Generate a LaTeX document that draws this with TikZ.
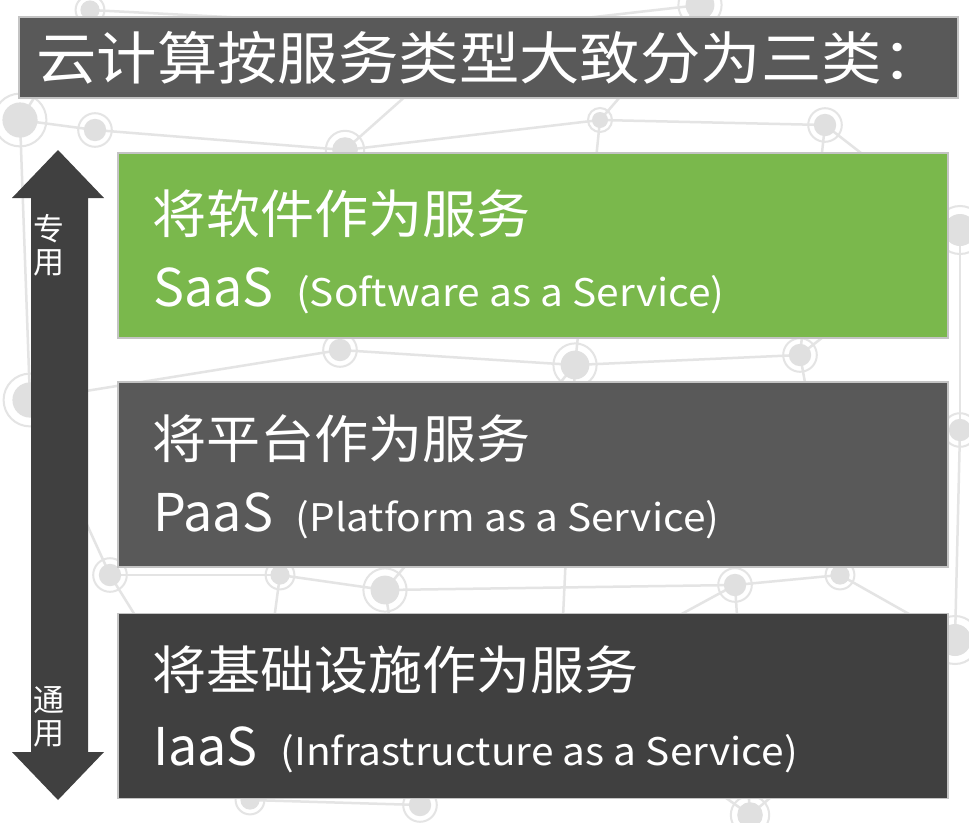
\documentclass[tikz,border=0pt]{standalone}
\usepackage{fontspec}
\setmainfont{Noto Sans CJK SC}
\newfontfamily\cnwide[FakeStretch=1.04]{Noto Sans CJK SC}
\newfontfamily\titlewide[FakeStretch=1.06]{Noto Sans CJK SC}
\newfontfamily\fullwide[FakeStretch=1.07]{Noto Sans CJK SC}
\definecolor{saasgreen}{RGB}{122,184,76}
\definecolor{titlegray}{RGB}{89,89,89}
\definecolor{paasgray}{RGB}{89,89,89}
\definecolor{iaasgray}{RGB}{64,64,64}
\definecolor{arrowgray}{RGB}{64,64,64}
\definecolor{edgegray}{RGB}{196,196,196}
\definecolor{netline}{RGB}{228,228,228}
\definecolor{netdot}{RGB}{224,224,224}
\tikzset{
  panel/.style={draw=edgegray, line width=1.2pt, minimum width=830pt, minimum height=185pt, inner sep=0pt},
  cntext/.style={anchor=base west, text=white, font=\cnwide\fontsize{52}{52}\selectfont, inner sep=0pt},
  abbr/.style={anchor=base west, text=white, font=\fontsize{52}{52}\selectfont, inner sep=0pt},
  full/.style={anchor=base west, text=white, font=\fullwide\fontsize{38}{38}\selectfont, inner sep=0pt},
  side/.style={text=white, font=\fontsize{31}{31}\selectfont, inner sep=0pt},
  netl/.style={draw=netline, line width=2.5pt},
  dot/.style={circle, fill=netdot, inner sep=0pt},
  ring/.style={circle, draw=netline, line width=2pt, inner sep=0pt},
}
\begin{document}
\begin{tikzpicture}[x=1pt,y=-1pt]
\useasboundingbox (0,0) rectangle (969,822);
\fill[white] (0,0) rectangle (969,822);
% background network
\foreach \n/\x/\y/\r in {a/20/120/22, b/95/130/14, c/345/150/16, d/700/5/18, e/825/125/14, f/960/230/20, g/340/350/14, h/575/365/18, i/800/355/14, j/30/400/22, k/110/575/14, l/280/575/12, m/385/590/18, n/735/585/14, o/840/575/12, p/955/640/20, q/250/800/12, r/420/805/14, s/750/815/16, t/90/10/12, u/600/120/10, v/480/30/8, w/960/430/14, x/560/680/10}
  \coordinate (\n) at (\x,\y);
\foreach \p/\q in {a/b, a/t, b/c, c/v, v/d, d/u, u/e, e/f, c/g, g/h, h/i, i/e, i/f, a/j, j/k, k/l, l/m, m/h, m/n, n/o, o/i, o/p, p/w, w/f, n/x, x/r, r/q, q/k, x/s, s/p, g/j, h/u, c/u, t/v, l/q, m/r, n/s, h/x}
  \draw[netl] (\p) -- (\q);
\foreach \n/\x/\y/\r in {a/20/120/22, b/95/130/14, c/345/150/16, d/700/5/18, e/825/125/14, f/960/230/20, g/340/350/14, h/575/365/18, i/800/355/14, j/30/400/22, k/110/575/14, l/280/575/12, m/385/590/18, n/735/585/14, o/840/575/12, p/955/640/20, q/250/800/12, r/420/805/14, s/750/815/16, t/90/10/12, u/600/120/10, v/480/30/8, w/960/430/14, x/560/680/10}
  {\node[dot, minimum size=1.6*\r pt] (dot\n) at (\x,\y) {};
   \node[ring, minimum size=2.4*\r pt] (ring\n) at (\x,\y) {};}
% title
\node[fill=titlegray, draw=edgegray, line width=1.2pt, minimum width=939pt, minimum height=81pt, inner sep=0pt] (title) at (488.5,57.5) {};
\node[anchor=base west, text=white, font=\titlewide\fontsize{57}{57}\selectfont, inner sep=0pt] (titletext) at (36,79) {云计算按服务类型大致分为三类：};
% panels
\node[panel, fill=saasgreen] (saas) at (533,245.5) {};
\node[panel, fill=paasgray] (paas) at (533,474.5) {};
\node[panel, fill=iaasgray] (iaas) at (533,706) {};
\node[cntext] (saascn) at (152,233) {将软件作为服务};
\node[abbr] (saasab) at (153,306) {SaaS};
\node[full] (saasfull) at (saasab.base east) {\hspace{22pt}(Software as a Service)};
\node[cntext] (paascn) at (152,458) {将平台作为服务};
\node[abbr] (paasab) at (153,531) {PaaS};
\node[full] (paasfull) at (paasab.base east) {\hspace{22pt}(Platform as a Service)};
\node[cntext] (iaascn) at (152,689) {将基础设施作为服务};
\node[abbr] (iaasab) at (153,765) {IaaS};
\node[full] (iaasfull) at (iaasab.base east) {\hspace{22pt}(Infrastructure as a Service)};
% double arrow
\fill[arrowgray] (58,150) -- (104,198) -- (88,198) -- (88,752) -- (104,752) -- (58,800) -- (12,752) -- (31,752) -- (31,198) -- (12,198) -- cycle;
\node[side] (top1) at (49,229) {专};
\node[side] (top2) at (49,263) {用};
\node[side] (bot1) at (49,700) {通};
\node[side] (bot2) at (49,734) {用};
\end{tikzpicture}
\end{document}
